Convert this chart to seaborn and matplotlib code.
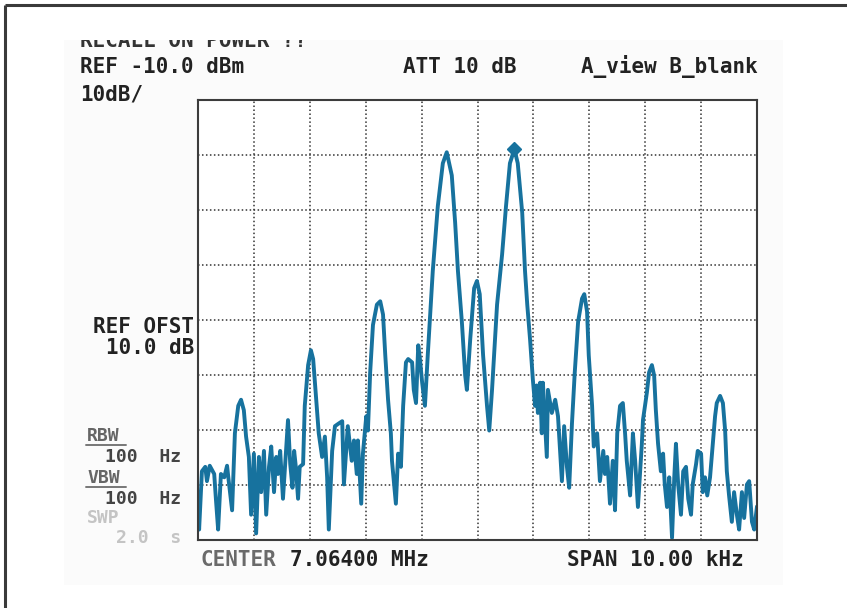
import matplotlib
matplotlib.use("Agg")
import matplotlib.pyplot as plt
from matplotlib.patches import Rectangle
import seaborn as sns
import pandas as pd

# Spectrum analyzer screen: 7.064 MHz centre, 10 kHz span, 10 dB/div
center_mhz = 7.06400
span_khz = 10.00
ref_dbm = -10.0
db_per_div = 10
marker_khz = 0.66
marker_dbm = -18.92

# trace (offset from centre in kHz, level in dBm)
freq_khz = [
    -5.00, -4.98, -4.93, -4.87, -4.84, -4.79, -4.71, -4.68, -4.64, -4.59,
    -4.53, -4.48, -4.45, -4.39, -4.34, -4.28, -4.23, -4.18, -4.14, -4.09,
    -4.05, -4.00, -3.96, -3.91, -3.87, -3.82, -3.78, -3.73, -3.69, -3.64,
    -3.60, -3.57, -3.53, -3.48, -3.44, -3.39, -3.35, -3.31, -3.28, -3.25,
    -3.21, -3.18, -3.12, -3.09, -3.03, -2.98, -2.94, -2.89, -2.84, -2.78,
    -2.73, -2.69, -2.66, -2.60, -2.55, -2.48, -2.42, -2.39, -2.32, -2.25,
    -2.21, -2.16, -2.14, -2.08, -2.05, -1.99, -1.96, -1.92, -1.87, -1.80,
    -1.74, -1.69, -1.65, -1.60, -1.55, -1.53, -1.46, -1.42, -1.37, -1.33,
    -1.28, -1.24, -1.17, -1.14, -1.10, -1.06, -1.03, -0.99, -0.94, -0.89,
    -0.80, -0.71, -0.62, -0.55, -0.46, -0.40, -0.35, -0.28, -0.22, -0.19,
    -0.13, -0.06, -0.01, 0.04, 0.10, 0.17, 0.21, 0.26, 0.35, 0.44,
    0.51, 0.58, 0.66, 0.72, 0.80, 0.85, 0.89, 0.94, 0.99, 1.03,
    1.06, 1.08, 1.12, 1.15, 1.17, 1.24, 1.26, 1.33, 1.39, 1.44,
    1.51, 1.55, 1.60, 1.64, 1.69, 1.74, 1.80, 1.87, 1.91, 1.96,
    1.99, 2.05, 2.08, 2.14, 2.19, 2.25, 2.28, 2.32, 2.37, 2.42,
    2.46, 2.50, 2.55, 2.60, 2.64, 2.67, 2.73, 2.78, 2.82, 2.87,
    2.94, 2.96, 3.03, 3.07, 3.12, 3.16, 3.19, 3.23, 3.28, 3.32,
    3.35, 3.39, 3.43, 3.48, 3.52, 3.55, 3.59, 3.64, 3.68, 3.73,
    3.77, 3.82, 3.85, 3.91, 3.94, 4.00, 4.03, 4.07, 4.11, 4.16,
    4.21, 4.25, 4.28, 4.34, 4.39, 4.43, 4.46, 4.50, 4.55, 4.59,
    4.64, 4.68, 4.73, 4.77, 4.82, 4.86, 4.91, 4.95, 5.00,
]
level_dbm = [
    -81.3, -88.1, -77.5, -76.7, -79.3, -76.5, -78.0, -82.5, -88.1, -78.0,
    -78.6, -76.5, -79.3, -84.6, -70.6, -65.6, -64.5, -66.4, -71.2, -74.9,
    -85.4, -74.3, -88.8, -74.9, -81.3, -73.8, -85.4, -76.7, -73.0, -81.3,
    -74.9, -78.0, -73.8, -82.5, -76.2, -68.2, -76.2, -80.5, -73.8, -76.7,
    -82.5, -76.7, -76.2, -65.6, -58.2, -55.5, -57.1, -63.8, -70.6, -74.9,
    -71.2, -78.6, -88.1, -73.8, -69.3, -68.8, -68.4, -79.9, -69.3, -75.6,
    -71.9, -78.0, -71.9, -83.4, -74.3, -67.5, -70.1, -59.5, -50.9, -47.2,
    -46.6, -49.0, -56.4, -64.5, -70.6, -75.6, -83.4, -74.3, -76.7, -65.6,
    -57.7, -57.1, -57.7, -62.7, -65.1, -54.6, -57.1, -61.4, -65.6, -56.4,
    -41.1, -29.3, -21.5, -19.5, -23.7, -32.3, -41.1, -50.3, -60.1, -62.7,
    -53.5, -44.2, -42.9, -45.3, -56.4, -65.6, -70.1, -62.7, -47.2, -38.1,
    -29.3, -21.5, -18.92, -21.5, -30.5, -41.1, -47.2, -53.5, -60.8, -65.6,
    -61.9, -66.9, -61.4, -70.6, -61.4, -74.9, -62.7, -66.9, -64.5, -67.5,
    -79.3, -69.3, -76.7, -80.5, -68.8, -59.5, -50.3, -46.1, -45.3, -48.5,
    -56.4, -65.6, -73.0, -70.6, -79.3, -73.8, -78.0, -74.9, -83.4, -75.6,
    -84.6, -70.6, -65.6, -65.1, -70.6, -75.6, -81.9, -70.6, -75.6, -84.0,
    -72.5, -68.2, -63.2, -59.5, -58.2, -60.1, -66.3, -72.5, -77.5, -74.3,
    -79.9, -84.0, -78.6, -89.6, -78.6, -72.5, -79.9, -85.4, -77.5, -76.7,
    -82.5, -85.4, -79.9, -76.2, -73.8, -74.3, -81.3, -78.6, -81.9, -78.6,
    -72.5, -67.5, -65.1, -63.8, -65.1, -70.1, -77.5, -81.9, -86.7, -81.3,
    -85.4, -88.1, -81.3, -86.0, -79.9, -79.3, -86.7, -88.1, -83.9,
]

trace = pd.DataFrame({"freq": freq_khz, "level": level_dbm})

sns.set_theme(style="white")
plt.rcParams["font.family"] = ["DejaVu Sans Mono", "DejaVu Sans"]

W, H = 847, 608
fig = plt.figure(figsize=(W / 100, H / 100), dpi=100)
fig.patch.set_facecolor("white")

# background layer in pixel coordinates for the screen annotations
bg = fig.add_axes([0, 0, 1, 1], zorder=0)
bg.set_xlim(0, W)
bg.set_ylim(H, 0)
bg.axis("off")
bg.add_patch(Rectangle((64, 40), 719, 545, facecolor="#fbfbfb", edgecolor="none"))
bg.plot([5, 5], [5, H], color="#3a3a3a", lw=2.2, solid_capstyle="butt")
bg.plot([5, W], [5, 5], color="#3a3a3a", lw=2.2, solid_capstyle="butt")

txt = dict(fontsize=15, fontweight="bold", va="center")
dark = "#222222"
# top line is cut off by the screen edge, only the lower part shows
recall = bg.text(80, 47, "RECALL ON POWER ??", va="baseline", ha="left",
                 fontsize=15, fontweight="bold", color="#333333", clip_on=True)
recall.set_clip_path(Rectangle((0, 40), W, 40, transform=bg.transData))

bg.text(80, 67, "REF -10.0 dBm", ha="left", color=dark, **txt)
bg.text(403, 67, "ATT 10 dB", ha="left", color=dark, **txt)
bg.text(758, 67, "A_view B_blank", ha="right", color=dark, **txt)
bg.text(80, 95, "10dB/", ha="left", color=dark, **txt)
bg.text(194, 327, "REF OFST", ha="right", color=dark, **txt)
bg.text(194, 348, "10.0 dB", ha="right", color=dark, **txt)

side = dict(fontsize=13, fontweight="bold", va="center")
bg.text(87, 436, "RBW", ha="left", color="#666666", **side)
bg.plot([86, 126], [445, 445], color="#777777", lw=1.4)
bg.text(181, 457, "100  Hz", ha="right", color="#444444", **side)
bg.text(87, 478, "VBW", ha="left", color="#666666", **side)
bg.plot([86, 126], [487, 487], color="#777777", lw=1.4)
bg.text(181, 499, "100  Hz", ha="right", color="#444444", **side)
bg.text(87, 518, "SWP", ha="left", color="#c4c4c4", **side)
bg.text(181, 538, "2.0  s", ha="right", color="#c4c4c4", **side)

bg.text(200, 560, "CENTER", ha="left", color="#6a6a6a", **txt)
bg.text(290, 560, "%.5f MHz" % center_mhz, ha="left", color=dark, **txt)
bg.text(744, 560, "SPAN %.2f kHz" % span_khz, ha="right", color=dark, **txt)

mk = dict(fontsize=16.5, fontweight="bold", va="center", color=dark)
bg.text(571, 133, "MKR", ha="left", **mk)
bg.text(731, 167, "%.5f  MHz" % (center_mhz + marker_khz / 1000), ha="right", **mk)
bg.text(731, 196, "%.2f  dBm" % marker_dbm, ha="right", **mk)

# graticule
left, right, top, bottom = 198, 757, 100, 540
ax = fig.add_axes([left / W, 1 - bottom / H, (right - left) / W, (bottom - top) / H], zorder=1)
ax.set_facecolor("white")

sns.lineplot(data=trace, x="freq", y="level", ax=ax, color="#17729e",
             lw=2.8, sort=False, estimator=None)
ax.plot([marker_khz], [marker_dbm], marker="D", ms=7, color="#17729e")

ax.set_xlim(-span_khz / 2, span_khz / 2)
ax.set_ylim(ref_dbm - 8 * db_per_div, ref_dbm)
ax.set_xticks(range(-5, 6))
ax.set_yticks(range(-90, -9, 10))
ax.set_xticklabels([])
ax.set_yticklabels([])
ax.tick_params(length=0)
ax.set_xlabel("")
ax.set_ylabel("")
ax.grid(True, color="#333333", lw=1.1, linestyle=(0, (1, 1.6)))
for s in ax.spines.values():
    s.set_color("#3c3c3c")
    s.set_linewidth(1.5)

fig.savefig("out.png", dpi=100)
